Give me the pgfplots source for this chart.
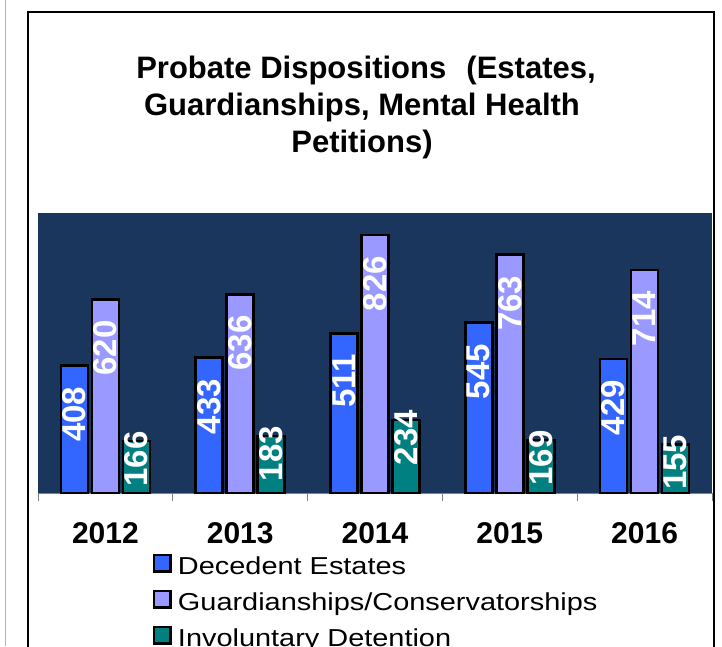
\documentclass[border=0pt]{standalone}
\usepackage{fontspec}
\setmainfont{Liberation Sans}
\newfontfamily\legfont[FakeStretch=1.18]{Liberation Sans}
\usepackage{pgfplots}
\pgfplotsset{compat=1.18}
\definecolor{navy}{HTML}{1A365D}
\definecolor{barblue}{HTML}{3366FF}
\definecolor{barlav}{HTML}{9999FF}
\definecolor{barteal}{HTML}{008080}

\begin{document}
\begin{tikzpicture}
\useasboundingbox (0,0) rectangle (722pt,-646pt);
\clip (0,0) rectangle (722pt,-646pt);
% outer frames
\draw[gray!60, line width=1.5pt] (5.5pt,0pt) -- (5.5pt,-646pt);
\draw[black, line width=2pt] (28pt,-660pt) -- (28pt,-12pt) -- (714pt,-12pt) -- (714pt,-660pt);
% title
\begin{scope}[every node/.style={anchor=base, font=\bfseries\fontsize{31}{37}\selectfont}]
\node at (366pt,-78pt) {Probate Dispositions\hspace{0.65em}(Estates,};
\node at (362pt,-115pt) {Guardianships, Mental Health};
\node at (362pt,-152pt) {Petitions)};
\end{scope}

\begin{axis}[
  at={(38pt,-493pt)}, anchor=south west,
  scale only axis, width=674pt, height=280pt,
  xmin=-0.5, xmax=4.5, ymin=0, ymax=896,
  clip=false,
  axis background/.style={fill=navy},
  axis x line*=bottom, axis y line=none,
  x axis line style={-, gray, line width=1pt},
  ytick=\empty,
  xtick={0,1,2,3,4},
  xticklabels={2012,2013,2014,2015,2016},
  major tick length=0pt,
  minor xtick={-0.5,0.5,1.5,2.5,3.5,4.5},
  minor tick length=8pt,
  tick align=outside,
  tick style={gray, line width=1pt},
  x tick label style={anchor=base, yshift=-50pt, font=\bfseries\fontsize{30}{36}\selectfont},
  /pgf/number format/assume math mode=true,
  ybar=4pt, bar width=27pt,
  nodes near coords,
  every node near coord/.append style={rotate=90, anchor=east, inner xsep=20pt,
    text=white, font=\bfseries\fontsize{33}{38}\selectfont},
  legend style={at={(0.1706,-0.2143)}, anchor=north west, draw=none, fill=none,
    inner sep=0pt, outer sep=0pt, row sep=9pt, column sep=6pt,
    font=\legfont\fontsize{24.5}{30}\selectfont,
    nodes={inner sep=0pt, text height=21pt, text depth=6pt}},
  legend cell align=left,
  legend image code/.code={\draw[#1, line width=2.5pt, draw=black] (1.25pt,-4.75pt) rectangle (17.75pt,11.75pt);},
]
\addplot[fill=barblue, draw=black, line width=2.5pt] coordinates {(0,408) (1,433) (2,511) (3,545) (4,429)};
\addlegendentry{Decedent Estates}
\addplot[fill=barlav, draw=black, line width=2.5pt] coordinates {(0,620) (1,636) (2,826) (3,763) (4,714)};
\addlegendentry{Guardianships/Conservatorships}
\addplot[fill=barteal, draw=black, line width=2.5pt,
  every node near coord/.append style={inner xsep=-11pt}] coordinates {(0,166) (1,183) (2,234) (3,169) (4,155)};
\addlegendentry{Involuntary Detention}
\end{axis}
\end{tikzpicture}
\end{document}
